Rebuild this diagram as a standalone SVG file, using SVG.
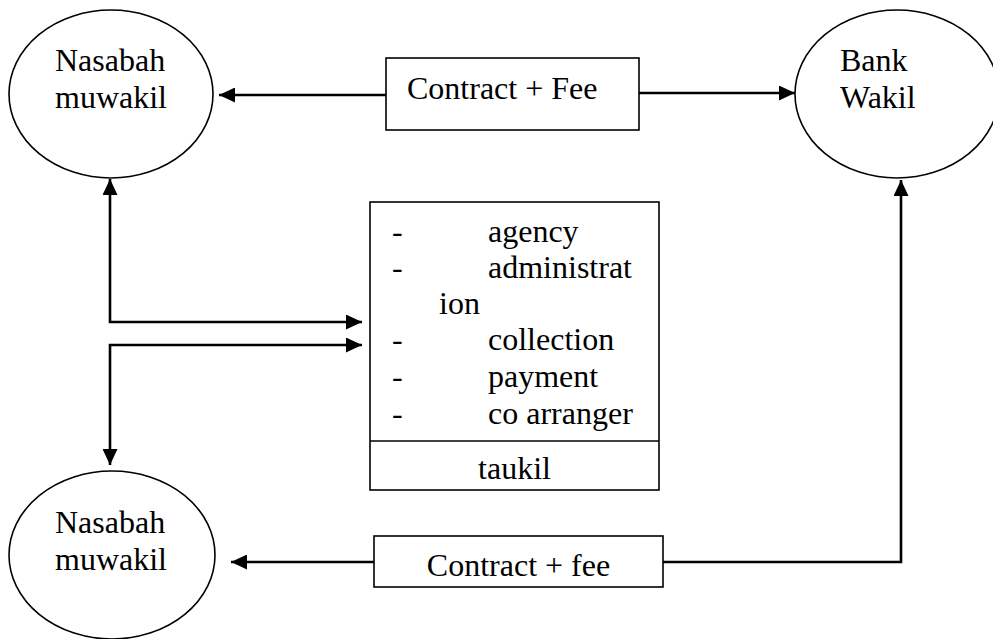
<svg xmlns="http://www.w3.org/2000/svg" width="993" height="639" viewBox="0 0 993 639">
  <style>
    .shape { fill: #ffffff; stroke: #000000; stroke-width: 1.6; }
    .conn { fill: none; stroke: #000000; stroke-width: 2.6; }
    text { font-family: "Liberation Serif", "Times New Roman", serif; font-size: 32px; fill: #000000; }
  </style>
  <defs>
    <marker id="arrow" markerUnits="userSpaceOnUse" markerWidth="16" markerHeight="15" refX="16" refY="7.5" orient="auto-start-reverse">
      <path d="M0,0 L16,7.5 L0,15 Z" fill="#000000"/>
    </marker>
  </defs>

  <g id="connectors">
    <line class="conn" x1="386" y1="95" x2="219" y2="95" marker-end="url(#arrow)"/>
    <line class="conn" x1="639" y1="93" x2="795" y2="93" marker-end="url(#arrow)"/>
    <path class="conn" d="M110,179 L110,322 L362,322" marker-start="url(#arrow)" marker-end="url(#arrow)"/>
    <path class="conn" d="M110,465 L110,345 L362,345" marker-start="url(#arrow)" marker-end="url(#arrow)"/>
    <line class="conn" x1="374" y1="562" x2="231" y2="562" marker-end="url(#arrow)"/>
    <path class="conn" d="M663,562 L901,562 L901,180" marker-end="url(#arrow)"/>
  </g>

  <g id="nasabah-top">
    <ellipse class="shape" cx="111" cy="94" rx="102" ry="84"/>
    <text x="55" y="71">Nasabah</text>
    <text x="55" y="108">muwakil</text>
  </g>

  <g id="contract-fee-top">
    <rect class="shape" x="386" y="58" width="253" height="72"/>
    <text x="407" y="99">Contract + Fee</text>
  </g>

  <g id="bank-wakil">
    <ellipse class="shape" cx="897" cy="94" rx="102" ry="84"/>
    <text x="840" y="71">Bank</text>
    <text x="840" y="108">Wakil</text>
  </g>

  <g id="taukil-box">
    <rect class="shape" x="370" y="202" width="289" height="288"/>
    <line class="shape" x1="370" y1="441" x2="659" y2="441"/>
    <text x="392" y="242">-</text>
    <text x="488" y="242">agency</text>
    <text x="392" y="278">-</text>
    <text x="488" y="278">administrat</text>
    <text x="439" y="314">ion</text>
    <text x="392" y="350">-</text>
    <text x="488" y="350">collection</text>
    <text x="392" y="387">-</text>
    <text x="488" y="387">payment</text>
    <text x="392" y="424">-</text>
    <text x="488" y="424">co arranger</text>
    <text x="514.5" y="479" text-anchor="middle">taukil</text>
  </g>

  <g id="nasabah-bottom">
    <ellipse class="shape" cx="112" cy="555" rx="103" ry="84"/>
    <text x="55" y="533">Nasabah</text>
    <text x="55" y="570">muwakil</text>
  </g>

  <g id="contract-fee-bottom">
    <rect class="shape" x="374" y="536" width="289" height="51"/>
    <text x="518.5" y="576" text-anchor="middle">Contract + fee</text>
  </g>
</svg>
